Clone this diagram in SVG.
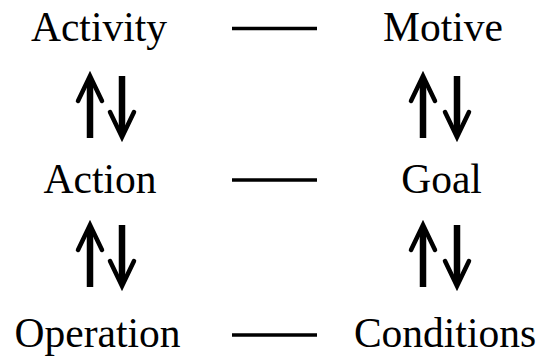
<svg xmlns="http://www.w3.org/2000/svg" width="546" height="361" viewBox="0 0 546 361">
<style>
.lbl{font-family:"Liberation Serif","Times New Roman",serif;font-size:41.5px;fill:#000;text-anchor:middle}
.dash{stroke:#000;stroke-width:3.5;fill:none}
.arr{stroke:#000;stroke-width:6.5;fill:none;marker-end:url(#head)}
</style>
<defs>
<marker id="head" markerUnits="userSpaceOnUse" orient="auto" markerWidth="40" markerHeight="40" refX="0" refY="0" viewBox="-30 -20 40 40" overflow="visible">
<path d="M -21 -12 L 4 0 L -21 12" fill="none" stroke="#000" stroke-width="4.5" stroke-linejoin="miter" stroke-linecap="round"/>
</marker>
</defs>
<rect width="546" height="361" fill="#fff"/>
<g id="connectors">
<line class="dash" x1="232" y1="28.5" x2="317" y2="28.5"/>
<line class="dash" x1="232" y1="180" x2="317" y2="180"/>
<line class="dash" x1="232" y1="335" x2="317" y2="335"/>
<line class="arr" x1="90" y1="138" x2="90" y2="80"/>
<line class="arr" x1="122" y1="76" x2="122" y2="133"/>
<line class="arr" x1="423" y1="138" x2="423" y2="80"/>
<line class="arr" x1="457" y1="76" x2="457" y2="133"/>
<line class="arr" x1="90" y1="287" x2="90" y2="229"/>
<line class="arr" x1="122" y1="225" x2="122" y2="282"/>
<line class="arr" x1="423" y1="287" x2="423" y2="229"/>
<line class="arr" x1="457" y1="225" x2="457" y2="282"/>
</g>
<g id="activity"><text class="lbl" x="99" y="41">Activity</text></g>
<g id="motive"><text class="lbl" x="443" y="41">Motive</text></g>
<g id="action"><text class="lbl" x="100" y="193">Action</text></g>
<g id="goal"><text class="lbl" x="441.5" y="193">Goal</text></g>
<g id="operation"><text class="lbl" x="97.5" y="347">Operation</text></g>
<g id="conditions"><text class="lbl" x="445" y="347">Conditions</text></g>
</svg>
